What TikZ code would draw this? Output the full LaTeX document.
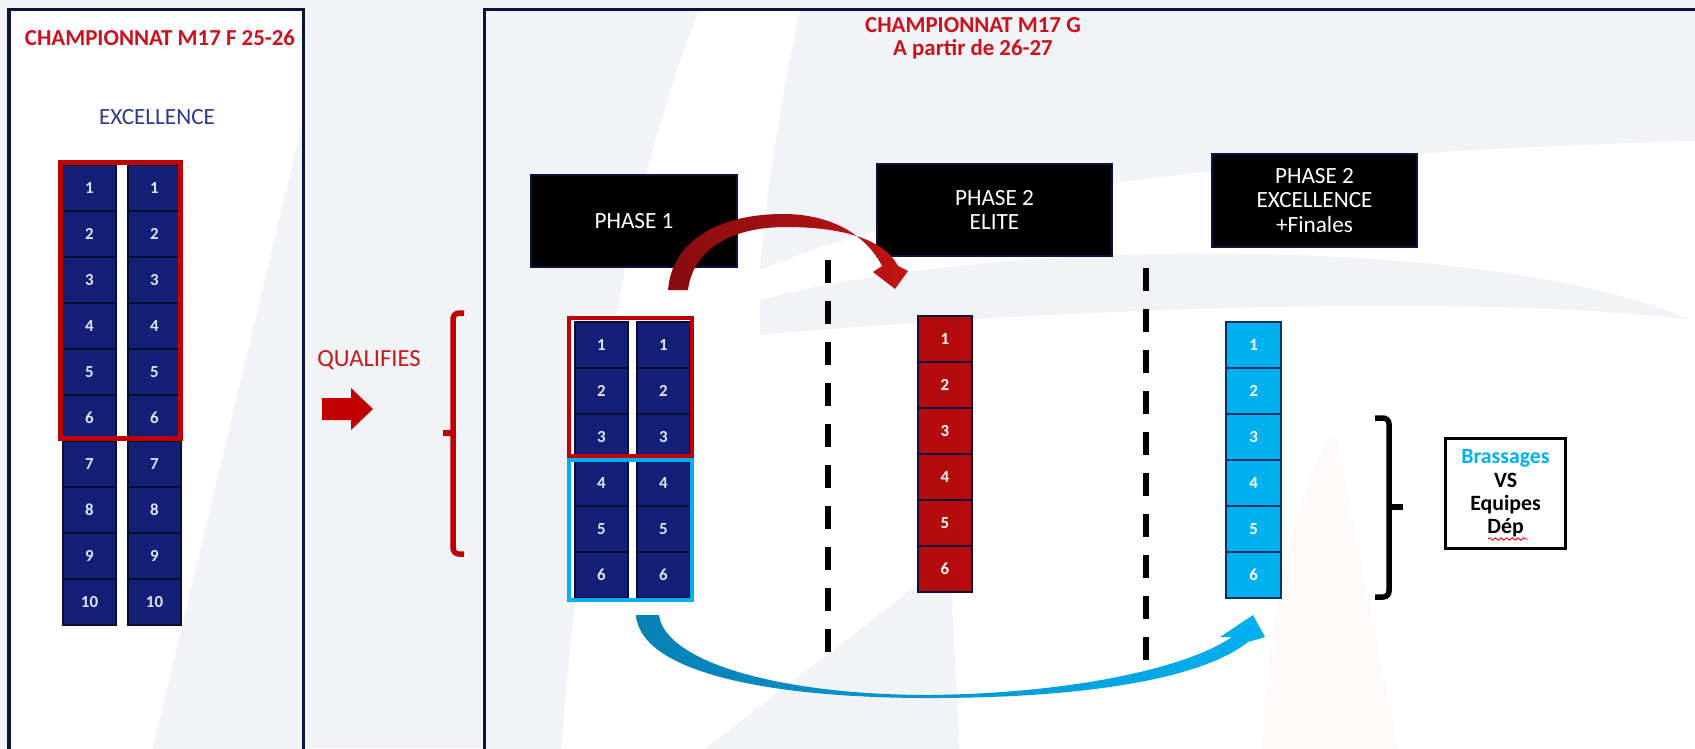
\documentclass[tikz,border=0pt]{standalone}
\usepackage{fontspec}
\setmainfont{Carlito}
\usetikzlibrary{calc}
\usetikzlibrary{decorations.pathmorphing}
\definecolor{bggray}{RGB}{242,243,247}
\definecolor{framenavy}{RGB}{14,18,62}
\definecolor{cellnavy}{RGB}{20,32,120}
\definecolor{celldark}{RGB}{10,14,50}
\definecolor{framered}{RGB}{192,0,0}
\definecolor{titlered}{RGB}{204,16,28}
\definecolor{elitered}{RGB}{180,12,12}
\definecolor{cyanblue}{RGB}{0,176,240}
\definecolor{excnavy}{RGB}{46,58,140}
\definecolor{arcredA}{RGB}{135,12,16}
\definecolor{arcredB}{RGB}{192,20,20}
\definecolor{arcblueA}{RGB}{8,128,182}
\newcommand{\cellcol}[5]{\foreach \n in {1,...,#5} {\node[#2] (#1\n) at (#3, #4+46*\n-23) {\n};}}
\tikzset{
  navycell/.style={draw=celldark, line width=0.35pt, fill=cellnavy, text=white!88!cellnavy, minimum width=0.53cm, minimum height=0.46cm, inner sep=0pt, font=\bfseries\fontsize{4.8}{5}\selectfont},
  elitecell/.style={navycell, fill=elitered, draw=framenavy, text=white, minimum width=0.54cm},
  exccell/.style={navycell, fill=cyanblue, draw=framenavy!80!cyanblue, text=white, minimum width=0.55cm},
  phasebox/.style={fill=black, draw=framenavy, line width=0.4pt, text=white, align=center, inner sep=0pt, font=\fontsize{6.6}{6.9}\selectfont},
  paneltitle/.style={text=titlered, align=center, font=\bfseries\fontsize{6.5}{6.6}\selectfont},
  dashline/.style={black, line width=0.065cm, dash pattern=on 0.23cm off 0.18cm},
  bracketline/.style={line width=0.055cm, rounded corners=0.06cm}
}
\begin{document}
\begin{tikzpicture}[x=0.01cm, y=-0.01cm]
\useasboundingbox (0,0) rectangle (1695,748);
% background
\fill[bggray] (0,0) rectangle (1695,748);
\begin{scope}
\clip (0,0) rectangle (1695,748);
\fill[white] (9,9) rectangle (303,760);
\fill[bggray] (303,120) -- (303,760) -- (150,760) -- cycle;
\fill[white] (484,9) rectangle (1720,760);
\fill[bggray] (484,9) -- (700,9) .. controls (640,150) and (590,400) .. (560,760) -- (484,760) -- cycle;
\fill[bggray] (800,9) -- (1720,9) -- (1720,140) .. controls (1400,150) and (1000,170) .. (760,270) .. controls (770,150) and (790,60) .. (800,9) -- cycle;
\fill[bggray] (760,300) .. controls (1000,235) and (1500,235) .. (1690,320) .. controls (1500,295) and (1100,305) .. (760,335) -- cycle;
\fill[bggray] (690,760) -- (950,560) -- (960,760) -- cycle;
\fill[red!2] (1262,760) .. controls (1268,600) and (1300,480) .. (1335,430) -- (1400,760) -- cycle;
\draw[framenavy, line width=0.03cm] (9,760) -- (9,9) -- (303,9) -- (303,760);
\draw[framenavy, line width=0.03cm] (484,760) -- (484,9) -- (1720,9);
\end{scope}
% left panel
\node[paneltitle] (ftitle) at (160,38) {CHAMPIONNAT M17 F 25-26};
\node[text=excnavy, font=\fontsize{6.6}{7}\selectfont] (fexc) at (157,117) {EXCELLENCE};
\fill[white] (60.5,162.5) rectangle (180.5,438);
\cellcol{fa}{navycell}{89.5}{165}{10}
\cellcol{fb}{navycell}{154.5}{165}{10}
\draw[framered, line width=0.05cm] (60.5,162.5) rectangle (180.5,438);
% qualifies
\node[text=framered!90!white, font=\fontsize{7}{8}\selectfont] (qual) at (369,360) {QUALIFIES};
\fill[framered] (322,398) -- (351,398) -- (351,388) -- (373,409) -- (351,430) -- (351,420) -- (322,420) -- cycle;
\draw[framered, bracketline] (464,313) -- (453,313) -- (453,554) -- (464,554);
\draw[framered, line width=0.055cm] (443,433) -- (453,433);
% right panel
\node[paneltitle] (gtitle) at (973,38.5) {CHAMPIONNAT M17 G\\A partir de 26-27};
\node[phasebox, minimum width=2.06cm, minimum height=0.92cm] (ph1) at (634,221) {PHASE 1};
\node[phasebox, minimum width=2.35cm, minimum height=0.92cm] (ph2e) at (994.5,210) {PHASE 2\\ELITE};
\node[phasebox, minimum width=2.05cm, minimum height=0.93cm] (ph2x) at (1314.5,200.5) {PHASE 2\\EXCELLENCE\\+Finales};
% phase 1
\fill[white] (569,318) rectangle (692,600);
\cellcol{pa}{navycell}{601.5}{322}{6}
\cellcol{pb}{navycell}{663.5}{322}{6}
\draw[framered, line width=0.04cm] (569,318) rectangle (692,456);
\draw[cyanblue, line width=0.04cm] (569,460) rectangle (692,600);
% phase 2
\cellcol{el}{elitecell}{945}{316}{6}
\cellcol{ex}{exccell}{1253.5}{322}{6}
\draw[dashline] (828,260) -- (828,655);
\draw[dashline] (1146,268) -- (1146,663);
% arrows
\shade[left color=arcredA, right color=arcredB] (668,290) .. controls (672,240) and (720,214) .. (783,214) .. controls (835,214) and (868,238) .. (882,266) -- (873,272) -- (895,289) -- (908,271) -- (898,266) .. controls (883,238) and (840,227) .. (786,227) .. controls (730,227) and (693,250) .. (688,290) -- cycle;
\shade[left color=arcblueA, right color=cyanblue] (636,615) .. controls (640,670) and (760,698) .. (930,698) .. controls (1080,698) and (1200,680) .. (1248,642) -- (1265,637) -- (1253,615) -- (1220,637) -- (1232,637) .. controls (1190,666) and (1080,693) .. (930,695) .. controls (780,695) and (665,662) .. (659,615) -- cycle;
% brassages
\draw[bracketline] (1375,418) -- (1389,418) -- (1389,597) -- (1375,597);
\draw[line width=0.055cm] (1389,507) -- (1403,507);
\node[draw=black, line width=0.03cm, minimum width=1.19cm, minimum height=1.09cm, align=center, inner sep=0pt, font=\bfseries\fontsize{6.2}{6.63}\selectfont] (brass) at (1505.5,493.5) {\textcolor{cyanblue}{Brassages}\\VS\\Equipes\\Dép};
\draw[red, line width=0.25pt, decorate, decoration={snake, amplitude=0.35pt, segment length=1.6pt}] (1488,539) -- (1528,539);
\end{tikzpicture}
\end{document}
